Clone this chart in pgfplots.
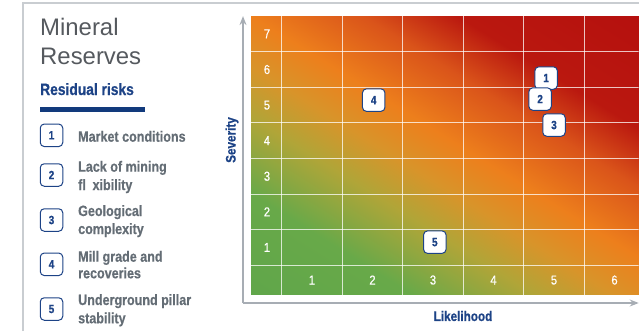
\documentclass[border=0pt]{standalone}
\usepackage{fontspec}
\setmainfont{Liberation Sans}
\newfontfamily\cond[FakeStretch=0.86, FakeBold=0.5]{Liberation Sans}
\newfontfamily\condb[FakeStretch=0.84, FakeBold=0.6]{Liberation Sans Bold}
\usepackage{pgfplots}
\pgfplotsset{compat=1.18}
\usetikzlibrary{arrows.meta}
\definecolor{navy}{HTML}{1D4386}
\definecolor{bar}{HTML}{123A7C}
\definecolor{txtgray}{HTML}{646D75}
\definecolor{titlegray}{HTML}{55595E}
\definecolor{axisgray}{HTML}{A7ADB4}
\definecolor{bordergray}{HTML}{C9CDD1}
\begin{document}
\begin{tikzpicture}[x=1bp,y=1bp]
% frame
\draw[bordergray, line width=1.5bp] (23,0) -- (23,328) -- (639,328);
% title
\node[anchor=base west, inner sep=0pt, text=titlegray, font=\fontsize{24}{28}\selectfont] at (40,296) {Mineral};
\node[anchor=base west, inner sep=0pt, text=titlegray, font=\fontsize{24}{28}\selectfont] at (40,267) {Reserves};
\node[anchor=base west, inner sep=0pt, text=navy, font=\condb\fontsize{16.5}{18}\selectfont] at (40,236) {Residual risks};
\fill[bar] (40,219) rectangle (145,224);
% legend
\tikzset{lbox/.style={draw=navy, line width=1bp, fill=white, rounded corners=4bp, minimum width=22.5bp, minimum height=22.5bp, inner sep=0pt, text=navy, font=\condb\fontsize{12}{12}\selectfont},
ltxt/.style={anchor=base west, inner sep=0pt, text=txtgray, font=\condb\fontsize{15}{16}\selectfont}}
\node[lbox] at (51.5,195.7) {1};
\node[lbox] at (51.5,156) {2};
\node[lbox] at (51.5,111) {3};
\node[lbox] at (51.5,66.7) {4};
\node[lbox] at (51.5,22) {5};
\node[ltxt] at (78,189.3) {Market conditions};
\node[ltxt] at (78,159.3) {Lack of mining};
\node[ltxt] at (78,141) {fl\hspace{0.45em}xibility};
\node[ltxt] at (78,115) {Geological};
\node[ltxt] at (78,97) {complexity};
\node[ltxt] at (78,69.3) {Mill grade and};
\node[ltxt] at (78,52.7) {recoveries};
\node[ltxt] at (78,26) {Underground pillar};
\node[ltxt] at (78,7.7) {stability};
% axis labels
\node[text=navy, font=\condb\fontsize{14}{14}\selectfont, rotate=90] at (232,191) {Severity};
\node[text=navy, font=\condb\fontsize{14}{14}\selectfont] at (463,15) {Likelihood};
\begin{axis}[at={(243bp,28bp)}, anchor=south west, scale only axis,
  width=395.7bp, height=286.9bp,
  xmin=-0.14, xmax=6.4, ymin=-0.56, ymax=7.5,
  axis lines=left,
  axis line style={draw=axisgray, line width=1.3bp, -{Stealth[length=9bp,width=7bp]}},
  xtick=\empty, ytick=\empty,
  colormap={risk}{rgb255(0pt)=(96,166,74); rgb255(20pt)=(104,169,73); rgb255(35pt)=(176,165,56); rgb255(45pt)=(216,148,42); rgb255(55pt)=(237,127,28); rgb255(68pt)=(218,84,26); rgb255(79pt)=(186,24,15); rgb255(100pt)=(181,16,14)},
  point meta min=0, point meta max=1]
\addplot[surf, shader=interp, mesh/rows=2, point meta=explicit] coordinates {
(0,-0.33) [0] (6.4,-0.33) [0.48]
(0,7.5) [0.55] (6.4,7.5) [1]};
\pgfplotsinvokeforeach{0.5,1.5,2.5,3.5,4.5,5.5}{
\addplot[white, opacity=0.75, line width=1bp] coordinates {(#1,-0.33) (#1,7.5)};}
\pgfplotsinvokeforeach{0.5,1.5,2.5,3.5,4.5,5.5,6.5}{
\addplot[white, opacity=0.75, line width=1bp] coordinates {(0,#1) (6.4,#1)};}
% tick labels
\addplot[draw=none, nodes near coords, point meta=explicit symbolic,
  every node near coord/.append style={anchor=center, text=white, font=\cond\fontsize{13}{13}\selectfont}]
coordinates {(1,0.085)[1] (2,0.085)[2] (3,0.085)[3] (4,0.085)[4] (5,0.085)[5] (6,0.085)[6]
(0.256,1)[1] (0.256,2)[2] (0.256,3)[3] (0.256,4)[4] (0.256,5)[5] (0.256,6)[6] (0.256,7)[7]};
% risks
\addplot[draw=none, nodes near coords, point meta=explicit symbolic,
  every node near coord/.append style={anchor=center, draw=navy, line width=1bp, fill=white, rounded corners=4bp, minimum width=22.5bp, minimum height=22.5bp, inner sep=0pt, text=navy, font=\condb\fontsize{12}{12}\selectfont}]
coordinates {(4.87,5.76)[1] (4.77,5.17)[2] (5.0,4.44)[3] (2.02,5.14)[4] (3.03,1.15)[5]};
\end{axis}
\pgfresetboundingbox
\path[use as bounding box] (0,0) rectangle (639,331);
\end{tikzpicture}
\end{document}
